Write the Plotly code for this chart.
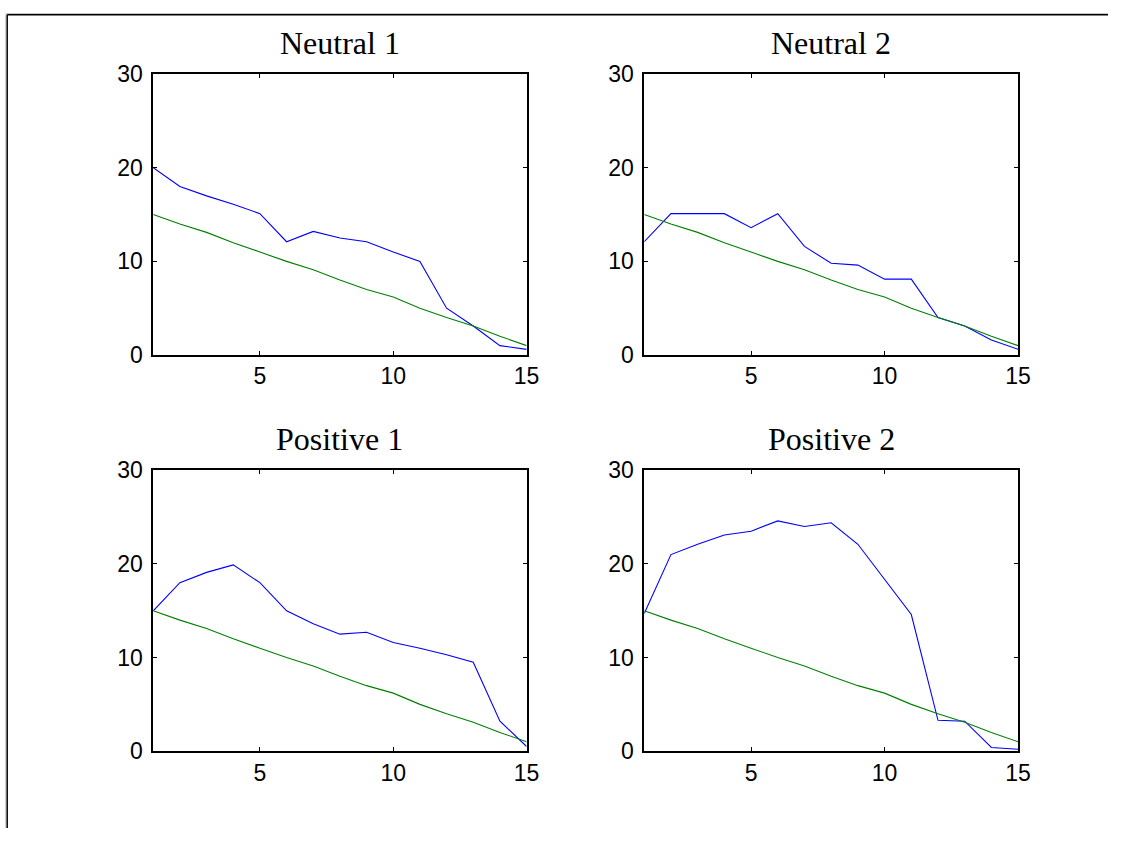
import plotly.graph_objects as go

W, H = 1121, 841

x_vals = list(range(1, 16))
reference = [15, 14, 13.1, 12, 11, 10, 9.1, 8, 7, 6.2, 5, 4, 3.1, 2, 1]
neutral1 = [20, 18, 17, 16.1, 15.1, 12.1, 13.2, 12.5, 12.1, 11.0, 10.0, 5.0, 3.1, 1.0, 0.6]
neutral2 = [12.1, 15.1, 15.1, 15.1, 13.6, 15.1, 11.6, 9.8, 9.6, 8.1, 8.1, 4.0, 3.1, 1.6, 0.6]
positive1 = [15.0, 18.0, 19.1, 19.9, 18.0, 15.0, 13.6, 12.5, 12.7, 11.6, 11.0, 10.3, 9.5, 3.2, 0.5]
positive2 = [14.7, 21.0, 22.1, 23.1, 23.5, 24.6, 24.0, 24.4, 22.1, 18.4, 14.6, 3.3, 3.2, 0.4, 0.2]

titles = ["Neutral 1", "Neutral 2", "Positive 1", "Positive 2"]
series = [neutral1, neutral2, positive1, positive2]
x_ticks = [5, 10, 15]
y_ticks = [0, 10, 20, 30]

# target panel boxes in picture pixels (left, right, top, bottom)
boxes = [
    (152.5, 527, 72.7, 354.3),
    (645, 1020, 72.7, 354.3),
    (152.5, 527, 470, 751.7),
    (645, 1020, 470, 751.7),
]

# the photographed picture maps page pixels slightly scaled/shifted; compensate
SX, OX = 0.9914, -1.2
SY, OY = 0.972, 11.3


def px_x(v):
    return ((v - OX) / SX) / W


def px_y(v):
    return 1 - ((v - OY) / SY) / H


fig = go.Figure()
annotations = []
for i, (title, s, (l, r, t, b)) in enumerate(zip(titles, series, boxes)):
    n = "" if i == 0 else str(i + 1)
    xa, ya = "x" + n, "y" + n
    fig.add_trace(go.Scatter(x=x_vals, y=s, mode="lines",
                             line=dict(color="#0000ff", width=1.1),
                             xaxis=xa, yaxis=ya, showlegend=False, hoverinfo="skip"))
    fig.add_trace(go.Scatter(x=x_vals, y=reference, mode="lines",
                             line=dict(color="#008000", width=1.1),
                             xaxis=xa, yaxis=ya, showlegend=False, hoverinfo="skip"))
    common = dict(showline=True, linecolor="black", linewidth=1.5, mirror="ticks",
                  ticks="inside", ticklen=4, tickwidth=1, tickcolor="black",
                  showgrid=False, zeroline=False, fixedrange=True,
                  tickfont=dict(family="Liberation Sans, Arial", size=23, color="black"))
    fig.update_layout({
        "xaxis" + n: dict(domain=[px_x(l), px_x(r)], range=[1, 15], anchor=ya,
                          tickvals=x_ticks, ticktext=[str(v) for v in x_ticks],
                          ticklabelstandoff=0, **common),
        "yaxis" + n: dict(domain=[px_y(b), px_y(t)], range=[0, 30], anchor=xa,
                          tickvals=y_ticks, ticktext=[str(v) for v in y_ticks],
                          ticklabelstandoff=4, **common),
    })
    annotations.append(dict(text=title, x=px_x((l + r) / 2), y=px_y(t - 31),
                            xref="paper", yref="paper", xanchor="center", yanchor="middle",
                            showarrow=False,
                            font=dict(family="Liberation Serif, Times New Roman", size=32, color="black")))

shapes = [
    dict(type="line", xref="paper", yref="paper", x0=px_x(4.5), x1=1, y0=1 - 0.5 / H, y1=1 - 0.5 / H,
         line=dict(color="#c8c8c8", width=1)),
    dict(type="line", xref="paper", yref="paper", x0=px_x(6), x1=1, y0=1 - 1.8 / H, y1=1 - 1.8 / H,
         line=dict(color="black", width=1.5)),
    dict(type="line", xref="paper", yref="paper", x0=px_x(4.5), x1=px_x(4.5), y0=0, y1=1 - 0.5 / H,
         line=dict(color="#c8c8c8", width=1)),
    dict(type="line", xref="paper", yref="paper", x0=px_x(6), x1=px_x(6), y0=0, y1=1 - 1.8 / H,
         line=dict(color="black", width=1.5)),
]

fig.update_layout(width=W, height=H, margin=dict(l=0, r=0, t=0, b=0),
                  paper_bgcolor="white", plot_bgcolor="white",
                  annotations=annotations, shapes=shapes, showlegend=False, hovermode=False)

fig.write_html("out.html", config={"displayModeBar": False},
               post_script="document.body.style.margin='0';document.body.style.padding='0';"
                           "document.documentElement.style.overflow='hidden';")
